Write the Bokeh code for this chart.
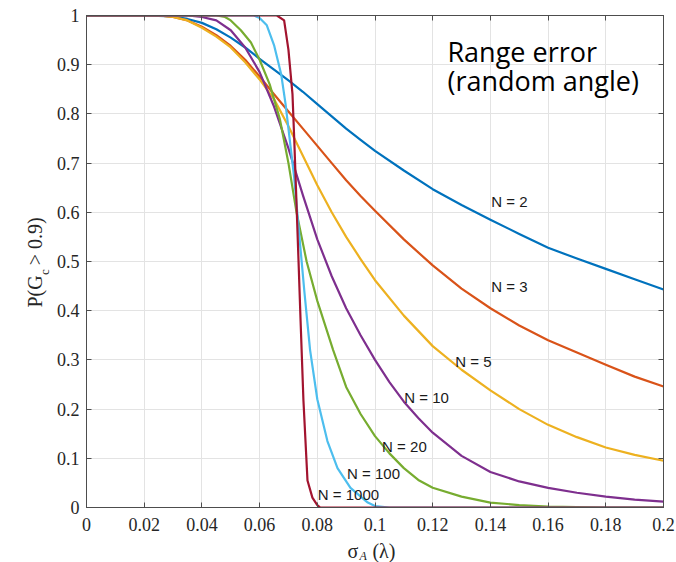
import math
from bokeh.plotting import figure
from bokeh.models import Range1d, FixedTicker, LinearAxis, Label
from bokeh.core.properties import value
from bokeh.embed import file_html
from bokeh.resources import INLINE

# ---------------- data ----------------
x_ticks = [0, 0.02, 0.04, 0.06, 0.08, 0.1, 0.12, 0.14, 0.16, 0.18, 0.2]
x_tick_labels = ["0", "0.02", "0.04", "0.06", "0.08", "0.1", "0.12", "0.14", "0.16", "0.18", "0.2"]
y_ticks = [0, 0.1, 0.2, 0.3, 0.4, 0.5, 0.6, 0.7, 0.8, 0.9, 1]
y_tick_labels = ["0", "0.1", "0.2", "0.3", "0.4", "0.5", "0.6", "0.7", "0.8", "0.9", "1"]

sigma_n2 = [0, 0.02, 0.03, 0.035, 0.04, 0.045, 0.05, 0.055, 0.06, 0.065, 0.07, 0.075, 0.08,
            0.085, 0.09, 0.095, 0.1, 0.11, 0.12, 0.13, 0.14, 0.15, 0.16, 0.17, 0.18, 0.19, 0.2]
p_n2 = [1, 1, 0.998, 0.993, 0.985, 0.972, 0.955, 0.935, 0.912, 0.89, 0.868, 0.845, 0.82,
        0.795, 0.77, 0.747, 0.725, 0.685, 0.647, 0.615, 0.585, 0.556, 0.528, 0.506, 0.485, 0.464, 0.443]

sigma_n3 = [0, 0.025, 0.03, 0.035, 0.04, 0.045, 0.05, 0.055, 0.06, 0.065, 0.07, 0.075, 0.08,
            0.085, 0.09, 0.095, 0.1, 0.11, 0.12, 0.13, 0.14, 0.15, 0.16, 0.17, 0.18, 0.19, 0.2]
p_n3 = [1, 1, 0.997, 0.99, 0.977, 0.96, 0.938, 0.91, 0.876, 0.84, 0.805, 0.77, 0.735,
        0.7, 0.665, 0.633, 0.603, 0.545, 0.492, 0.445, 0.405, 0.37, 0.34, 0.315, 0.29, 0.266, 0.246]

sigma_n5 = [0, 0.025, 0.03, 0.035, 0.04, 0.045, 0.05, 0.055, 0.06, 0.065, 0.07, 0.075, 0.08,
            0.085, 0.09, 0.095, 0.1, 0.11, 0.12, 0.13, 0.14, 0.15, 0.16, 0.17, 0.18, 0.19, 0.2]
p_n5 = [1, 1, 0.997, 0.99, 0.975, 0.957, 0.935, 0.905, 0.87, 0.83, 0.775, 0.715, 0.655,
        0.6, 0.55, 0.505, 0.462, 0.39, 0.328, 0.28, 0.238, 0.2, 0.168, 0.143, 0.122, 0.107, 0.095]

sigma_n10 = [0, 0.035, 0.04, 0.045, 0.05, 0.055, 0.06, 0.065, 0.07, 0.075, 0.08, 0.085, 0.09,
             0.095, 0.1, 0.105, 0.11, 0.115, 0.12, 0.13, 0.14, 0.15, 0.16, 0.17, 0.18, 0.19, 0.2]
p_n10 = [1, 1, 0.997, 0.99, 0.97, 0.935, 0.885, 0.815, 0.73, 0.635, 0.545, 0.47, 0.405,
         0.35, 0.3, 0.255, 0.215, 0.182, 0.152, 0.105, 0.072, 0.053, 0.04, 0.03, 0.022, 0.016, 0.012]

sigma_n20 = [0, 0.045, 0.048, 0.05, 0.0535, 0.057, 0.06, 0.0635, 0.067, 0.07, 0.0728, 0.0763, 0.08,
             0.0855, 0.09, 0.095, 0.1, 0.105, 0.11, 0.115, 0.12, 0.13, 0.14, 0.15, 0.16, 0.18, 0.2]
p_n20 = [1, 1, 0.997, 0.99, 0.97, 0.945, 0.91, 0.86, 0.79, 0.7, 0.6, 0.5, 0.42,
         0.32, 0.245, 0.19, 0.145, 0.11, 0.08, 0.056, 0.04, 0.022, 0.01, 0.005, 0.002, 0, 0]

sigma_n100 = [0, 0.058, 0.06, 0.0625, 0.065, 0.0675, 0.069, 0.07, 0.072, 0.0735, 0.0755, 0.0775,
              0.08, 0.0835, 0.087, 0.0915, 0.0975, 0.1, 0.105, 0.2]
p_n100 = [1, 1, 0.995, 0.98, 0.94, 0.88, 0.82, 0.77, 0.67, 0.57, 0.44, 0.32,
          0.22, 0.135, 0.08, 0.04, 0.01, 0.003, 0, 0]

sigma_n1000 = [0, 0.066, 0.0685, 0.07, 0.0714, 0.072, 0.0735, 0.0742, 0.0752, 0.0766, 0.0783, 0.08, 0.081, 0.2]
p_n1000 = [1, 1, 0.99, 0.93, 0.84, 0.75, 0.5, 0.38, 0.217, 0.055, 0.02, 0.005, 0, 0]

series_names = ["N = 2", "N = 3", "N = 5", "N = 10", "N = 20", "N = 100", "N = 1000"]
series_x = [sigma_n2, sigma_n3, sigma_n5, sigma_n10, sigma_n20, sigma_n100, sigma_n1000]
series_y = [p_n2, p_n3, p_n5, p_n10, p_n20, p_n100, p_n1000]
series_colors = ["#0072BD", "#D95319", "#EDB120", "#7E2F8E", "#77AC30", "#4DBEEE", "#A2142F"]

# label anchor points (centre of each series label, data units)
label_x = [0.1466, 0.1466, 0.1341, 0.1179, 0.1102, 0.0995, 0.0908]
label_y = [0.622, 0.449, 0.297, 0.2236, 0.124, 0.069, 0.026]

# ---------------- figure ----------------
AXIS_COL = "#4d4d4d"
TICK_COL = "#262626"
SERIF = "Liberation Serif"

p = figure(width=676, height=562, output_backend="svg", toolbar_location=None,
           x_range=Range1d(0, 0.2), y_range=Range1d(0, 1),
           min_border_left=86, min_border_right=13, min_border_top=15, min_border_bottom=55)
p.background_fill_color = "white"
p.border_fill_color = "white"
p.outline_line_color = AXIS_COL
p.outline_line_width = 1

xt = FixedTicker(ticks=x_ticks)
yt = FixedTicker(ticks=y_ticks)

for ax, tk, labs in ((p.xaxis[0], xt, x_tick_labels), (p.yaxis[0], yt, y_tick_labels)):
    ax.ticker = tk
    ax.major_label_overrides = {t: l for t, l in zip(tk.ticks, labs)}
    ax.major_tick_in = 5
    ax.major_tick_out = 0
    ax.minor_tick_in = 0
    ax.minor_tick_out = 0
    ax.axis_line_color = AXIS_COL
    ax.major_tick_line_color = AXIS_COL
    ax.major_label_text_font = SERIF
    ax.major_label_text_font_size = "18px"
    ax.major_label_text_color = TICK_COL
p.xaxis.major_label_standoff = 10
p.yaxis.major_label_standoff = 7

# mirror ticks on top and right
top_ax = LinearAxis(ticker=xt, major_tick_in=5, major_tick_out=0, minor_tick_in=0, minor_tick_out=0,
                    axis_line_color=AXIS_COL, major_tick_line_color=AXIS_COL,
                    major_label_text_font_size="0px", major_label_standoff=0,
                    major_label_overrides={t: "" for t in x_ticks})
right_ax = LinearAxis(ticker=yt, major_tick_in=5, major_tick_out=0, minor_tick_in=0, minor_tick_out=0,
                      axis_line_color=AXIS_COL, major_tick_line_color=AXIS_COL,
                      major_label_text_font_size="0px", major_label_standoff=0,
                      major_label_overrides={t: "" for t in y_ticks})
p.add_layout(top_ax, "above")
p.add_layout(right_ax, "right")

p.xgrid.ticker = xt
p.ygrid.ticker = yt
p.xgrid.grid_line_color = "#e3e3e3"
p.ygrid.grid_line_color = "#e3e3e3"

for xs, ys, c in zip(series_x, series_y, series_colors):
    p.line(xs, ys, line_color=c, line_width=2.2, line_join="round")

p.text(x=label_x, y=label_y, text=series_names, text_font=value("Liberation Sans"),
       text_font_size="15px", text_color="#1a1a1a", text_align="center", text_baseline="middle")

# title inside plot
for txt, yy in (("Range error", 0.9262), ("(random angle)", 0.8673)):
    p.add_layout(Label(x=0.1251, y=yy, text=txt, text_font="Open Sans", text_font_size="27px",
                       text_color="black", text_align="left", text_baseline="middle"))

# y-axis label: P(G_c > 0.9), rotated, drawn in the left border panel
p.add_layout(Label(x=-0.0177, y=0.4065, text="P(G\u00a0 > 0.9)", angle=math.pi / 2, text_font=SERIF,
                   text_font_size="20px", text_color=TICK_COL, text_align="left",
                   text_baseline="middle"), "left")
p.add_layout(Label(x=-0.0147, y=0.4726, text="c", angle=math.pi / 2, text_font=SERIF,
                   text_font_size="13px", text_color=TICK_COL, text_align="left",
                   text_baseline="middle"), "left")

# x-axis label: sigma_A (lambda), drawn in the bottom / top border panels
p.add_layout(Label(x=0.0905, y=-0.0892, text="σ\u00a0\u00a0\u2009(λ)", text_font=SERIF,
                   text_font_size="20px", text_color=TICK_COL, text_align="left",
                   text_baseline="middle"), "below")
p.add_layout(Label(x=0.0946, y=-0.0982, text="A", text_font=SERIF, text_font_style="italic",
                   text_font_size="12px", text_color=TICK_COL, text_align="left",
                   text_baseline="middle"), "above")

open("out.html", "w").write(file_html(p, INLINE))
